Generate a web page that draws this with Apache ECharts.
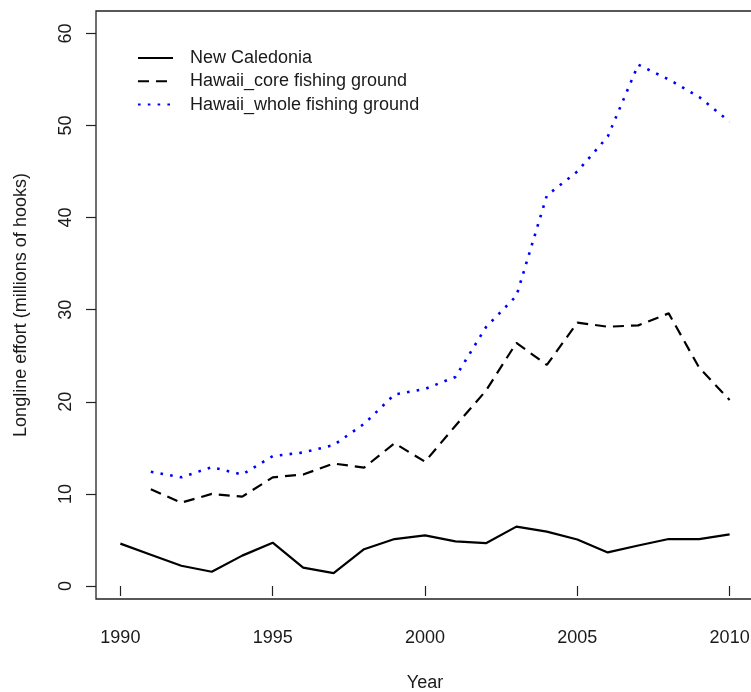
<!DOCTYPE html>
<html>
<head>
<meta charset="utf-8">
<script src="https://cdn.jsdelivr.net/npm/echarts@6/dist/echarts.min.js"></script>
<style>
  html, body { margin: 0; padding: 0; background: #fff; }
  #chart { width: 751px; height: 692px; }
</style>
</head>
<body>
<div id="chart"></div>
<script>
// Longline fishing effort, millions of hooks per year
const years = [1990, 1991, 1992, 1993, 1994, 1995, 1996, 1997, 1998, 1999, 2000,
               2001, 2002, 2003, 2004, 2005, 2006, 2007, 2008, 2009, 2010];
const newCaledonia = [4.6, 3.4, 2.2, 1.55, 3.3, 4.7, 2.0, 1.4, 4.0, 5.1, 5.5,
                      4.85, 4.65, 6.45, 5.9, 5.05, 3.65, 4.4, 5.1, 5.1, 5.6];
const hawaiiCore = [null, 10.5, 9.05, 10.0, 9.7, 11.8, 12.1, 13.3, 12.85, 15.5, 13.5,
                    17.4, 21.2, 26.4, 24.0, 28.6, 28.15, 28.3, 29.6, 23.7, 20.2];
const hawaiiWhole = [null, 12.4, 11.8, 12.9, 12.1, 14.1, 14.5, 15.3, 17.6, 20.8, 21.4,
                     22.7, 28.1, 31.5, 42.4, 45.0, 48.8, 56.6, 55.0, 53.1, 50.4];

const seriesNames = ['New Caledonia', 'Hawaii_core fishing ground', 'Hawaii_whole fishing ground'];
const xTicks = [1990, 1995, 2000, 2005, 2010];
const yTicks = [0, 10, 20, 30, 40, 50, 60];

const FONT = '"Liberation Sans", Arial, sans-serif';
const INK = '#1a1a1a';

function pairs(vals) {
  const out = [];
  years.forEach((y, i) => { if (vals[i] !== null) out.push([y, vals[i]]); });
  return out;
}

const chart = echarts.init(document.getElementById('chart'), null, { renderer: 'canvas' });
chart.setOption({
  animation: false,
  backgroundColor: '#fff',
  textStyle: { fontFamily: FONT, color: INK },
  grid: {
    left: 96, top: 11, width: 658, height: 588,
    outerBoundsMode: 'none', containLabel: false,
    show: true, borderColor: '#222', borderWidth: 1.3, backgroundColor: 'transparent'
  },
  legend: {
    orient: 'vertical', left: 137, top: 49, padding: 0,
    itemWidth: 35, itemHeight: 18, itemGap: 5.3,
    itemStyle: { color: 'transparent', borderWidth: 0, opacity: 0 },
    textStyle: { fontFamily: FONT, fontSize: 18, color: INK, lineHeight: 18, padding: [0, 0, 0, 12] },
    data: seriesNames
  },
  xAxis: {
    type: 'value', min: 1989.2, max: 2010.8,
    name: 'Year', nameLocation: 'middle', nameGap: 75.5,
    nameTextStyle: { fontFamily: FONT, fontSize: 18, color: INK },
    axisLine: { show: false },
    axisTick: { show: true, customValues: xTicks, length: 10, lineStyle: { color: '#222', width: 1.2 } },
    axisLabel: {
      customValues: xTicks, margin: 30, fontFamily: FONT, fontSize: 18, color: INK,
      formatter: v => String(v)
    },
    splitLine: { show: false }
  },
  yAxis: {
    type: 'value', min: -1.41, max: 62.43,
    name: 'Longline effort (millions of hooks)', nameLocation: 'middle', nameGap: 66,
    nameTextStyle: { fontFamily: FONT, fontSize: 18, color: INK },
    axisLine: { show: false },
    axisTick: { show: true, customValues: yTicks, length: 10, lineStyle: { color: '#222', width: 1.2 } },
    axisLabel: {
      customValues: yTicks, rotate: 90, margin: 21, fontFamily: FONT, fontSize: 18, color: INK,
      formatter: v => String(v)
    },
    splitLine: { show: false }
  },
  series: [
    {
      name: seriesNames[0], type: 'line', data: pairs(newCaledonia),
      symbol: 'none', color: '#000',
      lineStyle: { color: '#000', width: 2.2, type: 'solid' }
    },
    {
      name: seriesNames[1], type: 'line', data: pairs(hawaiiCore),
      symbol: 'none', color: '#000',
      lineStyle: { color: '#000', width: 2.2, type: [11, 7], cap: 'butt' }
    },
    {
      name: seriesNames[2], type: 'line', data: pairs(hawaiiWhole),
      symbol: 'none', color: '#0000ff',
      lineStyle: { color: '#0000ff', width: 2.6, type: [2.6, 7.2], cap: 'butt' }
    }
  ]
});
</script>
</body>
</html>
